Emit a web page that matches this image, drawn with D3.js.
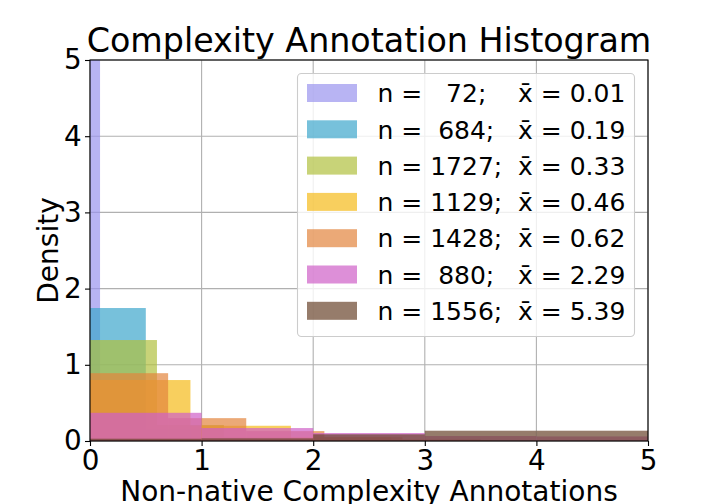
<!DOCTYPE html>
<html>
<head>
<meta charset="utf-8">
<script src="https://cdn.jsdelivr.net/npm/d3@7"></script>
<style>
  body { margin: 0; background: white; }
  text { font-family: "DejaVu Sans", sans-serif; fill: black; }
</style>
</head>
<body>
<div id="vis"></div>
<script>
// histogram values (density per bin, bins start at 0)
const COUNTS = [72, 684, 1727, 1129, 1428, 880, 1556];
const MEANS = ["0.01", "0.19", "0.33", "0.46", "0.62", "2.29", "5.39"];
const BIN_WIDTHS = [0.09, 0.5, 0.6, 0.9, 0.7, 1.0, 1.0];
const DENSITIES = [
    [10.8],
    [1.745, 0.15, 0.04, 0.02],
    [1.325, 0.21, 0.05, 0.02],
    [0.80, 0.20, 0.05, 0.01],
    [0.89, 0.30, 0.13, 0.05, 0.02],
    [0.37, 0.17, 0.105, 0.065, 0.06],
    [0.03, 0.035, 0.088, 0.135, 0.135]
];
const X_TICKS = [0, 1, 2, 3, 4, 5];
const Y_TICKS = [0, 1, 2, 3, 4, 5];
const COLORS = ["#9a94ee", "#3da6cc", "#b0c03e", "#f5ba19", "#e2843d", "#ce5fc7", "#6a442c"];

const FRAME_HEIGHT = 504;
const FRAME_WIDTH = 720;
const MARGINS = {left: 90, right: 72, top: 60, bottom: 63};

const VIS_HEIGHT = FRAME_HEIGHT - MARGINS.top - MARGINS.bottom;
const VIS_WIDTH = FRAME_WIDTH - MARGINS.left - MARGINS.right;

const FRAME = d3.select("#vis")
    .append("svg")
    .attr("height", FRAME_HEIGHT)
    .attr("width", FRAME_WIDTH);

const X_SCALE = d3.scaleLinear().domain([0, 5]).range([0, VIS_WIDTH]);
const Y_SCALE = d3.scaleLinear().domain([0, 5]).range([VIS_HEIGHT, 0]);

const PLOT = FRAME.append("g")
    .attr("transform", "translate(" + MARGINS.left + "," + MARGINS.top + ")");

FRAME.append("defs").append("clipPath").attr("id", "clip")
    .append("rect").attr("width", VIS_WIDTH).attr("height", VIS_HEIGHT);

// grid
PLOT.append("g")
    .selectAll("line")
    .data(X_TICKS)
    .enter().append("line")
        .attr("x1", d => X_SCALE(d)).attr("x2", d => X_SCALE(d))
        .attr("y1", 0).attr("y2", VIS_HEIGHT)
        .attr("stroke", "#b0b0b0").attr("stroke-width", 1.1);
PLOT.append("g")
    .selectAll("line")
    .data(Y_TICKS)
    .enter().append("line")
        .attr("y1", d => Y_SCALE(d)).attr("y2", d => Y_SCALE(d))
        .attr("x1", 0).attr("x2", VIS_WIDTH)
        .attr("stroke", "#b0b0b0").attr("stroke-width", 1.1);

// bars
const BARS = PLOT.append("g").attr("clip-path", "url(#clip)");
DENSITIES.forEach((dens, i) => {
    const bins = dens.map((v, j) => ({x0: j * BIN_WIDTHS[i], x1: (j + 1) * BIN_WIDTHS[i], v: v}));
    BARS.append("g")
        .selectAll("rect")
        .data(bins)
        .enter().append("rect")
            .attr("x", d => X_SCALE(d.x0))
            .attr("y", d => Y_SCALE(d.v))
            .attr("width", d => X_SCALE(d.x1) - X_SCALE(d.x0))
            .attr("height", d => VIS_HEIGHT - Y_SCALE(d.v))
            .attr("fill", COLORS[i])
            .attr("fill-opacity", 0.7);
});

// axes
const X_AXIS = PLOT.append("g")
    .attr("transform", "translate(0," + VIS_HEIGHT + ")")
    .call(d3.axisBottom(X_SCALE).tickValues(X_TICKS).tickFormat(d3.format("d"))
        .tickSize(5).tickPadding(3.8));
const Y_AXIS = PLOT.append("g")
    .call(d3.axisLeft(Y_SCALE).tickValues(Y_TICKS).tickFormat(d3.format("d"))
        .tickSize(5).tickPadding(3.3));
[X_AXIS, Y_AXIS].forEach(ax => {
    ax.select(".domain").remove();
    ax.selectAll("line").attr("stroke", "black").attr("stroke-width", 1.1);
    ax.selectAll("text").attr("font-size", 27.8).attr("font-family", "DejaVu Sans");
});

PLOT.append("rect")
    .attr("width", VIS_WIDTH).attr("height", VIS_HEIGHT)
    .attr("fill", "none").attr("stroke", "black").attr("stroke-width", 1.1);

// titles
FRAME.append("text")
    .attr("x", MARGINS.left + VIS_WIDTH / 2).attr("y", 51.5)
    .attr("text-anchor", "middle").attr("font-size", 33.3)
    .text("Complexity Annotation Histogram");
FRAME.append("text")
    .attr("x", MARGINS.left + VIS_WIDTH / 2).attr("y", 501)
    .attr("text-anchor", "middle").attr("font-size", 28)
    .text("Non-native Complexity Annotations");
FRAME.append("text")
    .attr("transform", "translate(58," + (MARGINS.top + VIS_HEIGHT / 2) + ") rotate(-90)")
    .attr("text-anchor", "middle").attr("font-size", 28)
    .text("Density");

// legend
const LEGEND = FRAME.append("g");
LEGEND.append("rect")
    .attr("x", 297.5).attr("y", 73.5).attr("width", 337).attr("height", 263)
    .attr("rx", 4).attr("fill", "white").attr("fill-opacity", 0.8)
    .attr("stroke", "#cccccc").attr("stroke-width", 1.1);
COUNTS.forEach((n, i) => {
    const cy = 93 + i * 36.3;
    LEGEND.append("rect")
        .attr("x", 307).attr("y", cy - 9).attr("width", 50).attr("height", 18)
        .attr("fill", COLORS[i]).attr("fill-opacity", 0.7);
    LEGEND.append("text")
        .attr("x", 377.5).attr("y", cy + 9.2).attr("font-size", 25)
        .attr("xml:space", "preserve").style("white-space", "pre")
        .text("n = " + String(n).padStart(4, " ") + ";");
    LEGEND.append("text")
        .attr("x", 518).attr("y", cy + 9.2).attr("font-size", 25)
        .text("x\u0304 = " + MEANS[i]);
});
</script>
</body>
</html>
